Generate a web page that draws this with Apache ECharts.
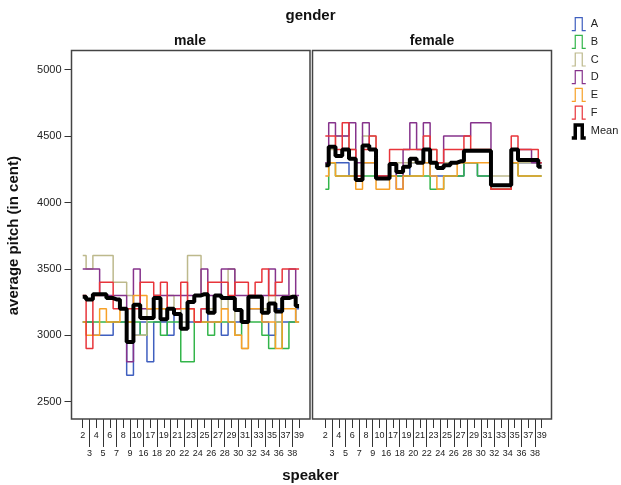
<!DOCTYPE html>
<html>
<head>
<meta charset="utf-8">
<script src="https://cdn.jsdelivr.net/npm/echarts@6/dist/echarts.min.js"></script>
<style>html,body{margin:0;padding:0;background:#fff}#c{width:621px;height:485px}</style>
</head>
<body>
<div id="c"></div>
<script>
const speakers = ['2','3','4','5','6','7','8','9','10','16','17','18','19','20','21','22','23','24','25','26','27','28','29','30','31','32','33','34','35','36','37','38','39'];
const yTicks = [2500, 3000, 3500, 4000, 4500, 5000];
const seriesNames = ['A','B','C','D','E','F','Mean'];

const maleA = [3100,3100,3000,3000,3000,3100,3100,2700,3000,3100,2800,3100,3100,3000,3200,3100,3100,3100,3200,3100,3100,3000,3100,3100,3100,3200,3200,3100,3000,3200,3100,3100,3200];
const maleB = [3100,3100,3100,3100,3100,3100,3100,3100,3100,3000,3100,3100,3000,3100,3100,2800,2800,3100,3100,3000,3100,3100,3100,3000,3100,3100,3100,3000,2900,3100,2900,3100,3100];
const maleC = [3600,3500,3600,3600,3600,3400,3400,3300,3000,3000,3200,3300,3200,3300,3200,3100,3600,3600,3300,3200,3300,3200,3500,3000,2900,3300,3300,3200,3300,3100,3300,3300,3100];
const maleD = [3500,3500,3500,3300,3300,3300,3300,2800,3500,3200,3200,3300,3300,3300,3300,3300,3300,3300,3500,3300,3300,3500,3500,3300,3300,3300,3300,3300,3500,3300,3300,3500,3300];
const maleE = [3100,3000,3000,3200,3100,3100,3200,3100,3300,3300,3200,3200,3200,3200,3200,3200,3200,3100,3100,3100,3100,3200,3100,3000,2900,3200,3200,3100,3100,2900,3200,3200,3100];
const maleF = [3300,2900,3300,3400,3400,3200,3200,3200,3200,3400,3400,3300,3400,3200,3200,3400,3200,3100,3200,3400,3400,3400,3300,3400,3400,3300,3400,3500,3300,3400,3500,3500,3500];
const maleMean = [3290,3270,3310,3310,3280,3270,3200,2950,3230,3130,3130,3280,3120,3200,3160,3050,3250,3300,3310,3170,3300,3280,3280,3190,3100,3290,3290,3170,3240,3180,3280,3290,3220];

const femaleA = [4300,4300,4300,4300,4200,4200,4300,4300,4200,4200,4300,4200,4200,4300,4300,4300,4200,4200,4200,4200,4200,4300,4300,4200,4200,4100,4100,4100,4300,4300,4300,4300,4300];
const femaleB = [4100,4300,4200,4200,4200,4200,4200,4200,4200,4200,4200,4200,4200,4200,4200,4200,4100,4100,4200,4200,4200,4300,4300,4200,4200,4100,4100,4100,4300,4200,4200,4200,4200];
const femaleC = [4300,4400,4500,4500,4400,4200,4500,4500,4200,4200,4300,4300,4300,4300,4300,4400,4400,4300,4300,4300,4300,4400,4400,4400,4400,4200,4200,4200,4400,4300,4300,4300,4300];
const femaleD = [4300,4600,4500,4500,4600,4300,4600,4400,4200,4200,4300,4100,4400,4600,4400,4600,4300,4300,4500,4500,4500,4500,4600,4600,4600,4100,4100,4100,4400,4400,4400,4300,4300];
const femaleE = [4200,4300,4200,4200,4200,4100,4300,4300,4100,4100,4200,4100,4200,4200,4200,4300,4200,4100,4200,4200,4300,4300,4300,4300,4300,4100,4100,4100,4300,4200,4200,4200,4200];
const femaleF = [4500,4500,4400,4600,4400,4200,4400,4500,4200,4200,4400,4400,4400,4400,4400,4500,4400,4300,4400,4400,4400,4500,4400,4400,4400,4100,4100,4100,4500,4400,4400,4400,4300];
const femaleMean = [4280,4420,4350,4400,4330,4170,4430,4400,4180,4180,4290,4230,4270,4330,4300,4400,4300,4260,4280,4300,4310,4390,4390,4390,4390,4130,4130,4130,4400,4320,4320,4320,4270];

const colors = ['#3f5fbf','#33b54a','#bdb98c','#86338c','#f7a128','#e8353b','#000000'];
const FONT = 'Liberation Sans, Arial, sans-serif';

const maleData = [maleA, maleB, maleC, maleD, maleE, maleF, maleMean];
const femaleData = [femaleA, femaleB, femaleC, femaleD, femaleE, femaleF, femaleMean];

function xAxisPair(gridIndex) {
  const base = {
    type: 'category', gridIndex: gridIndex, data: speakers, position: 'bottom',
    offset: 17.3, boundaryGap: true,
    axisLine: { show: false }, splitLine: { show: false }
  };
  return [
    Object.assign({}, base, {
      axisTick: { show: true, alignWithLabel: true, length: 9, interval: function (i) { return i % 2 === 0; }, lineStyle: { color: '#333', width: 1 } },
      axisLabel: { show: true, interval: function (i) { return i % 2 === 0; }, fontSize: 9, color: '#222', margin: 12, fontFamily: FONT }
    }),
    Object.assign({}, base, {
      axisTick: { show: true, alignWithLabel: true, length: 28, interval: function (i) { return i % 2 === 1; }, lineStyle: { color: '#333', width: 1 } },
      axisLabel: { show: true, interval: function (i) { return i % 2 === 1; }, fontSize: 9, color: '#222', margin: 30, fontFamily: FONT }
    })
  ];
}

const series = [];
seriesNames.forEach(function (name, k) {
  const isMean = name === 'Mean';
  [maleData, femaleData].forEach(function (arr, p) {
    series.push({
      name: name, type: 'line', step: 'middle', symbol: 'none',
      xAxisIndex: p * 2, yAxisIndex: p,
      data: arr[k],
      color: colors[k],
      lineStyle: { color: colors[k], width: isMean ? 4 : 1.5 },
      z: isMean ? 10 : 2 + k,
      emphasis: { disabled: true }
    });
  });
});

const legendIcon = 'path://M0,14 L3.5,14 L3.5,1 L10.5,1 L10.5,14 L14,14';

const option = {
  animation: false,
  color: colors,
  grid: [
    { left: 79.35, top: 69.7, width: 223.1, height: 332 },
    { left: 321.95, top: 69.7, width: 223.1, height: 332 }
  ],
  xAxis: xAxisPair(0).concat(xAxisPair(1)),
  yAxis: [
    {
      type: 'value', gridIndex: 0, min: yTicks[0], max: yTicks[yTicks.length - 1], interval: 500, position: 'left', offset: 7.85,
      axisLine: { show: false }, splitLine: { show: false },
      axisTick: { show: true, length: 7, lineStyle: { color: '#333', width: 1 } },
      axisLabel: { fontSize: 11, color: '#222', margin: 10, fontFamily: FONT, formatter: function (v) { return String(v); } },
      name: 'average pitch (in cent)', nameLocation: 'middle', nameGap: 50, nameRotate: 90,
      nameTextStyle: { fontSize: 15, fontWeight: 'bold', color: '#111', fontFamily: FONT }
    },
    {
      type: 'value', gridIndex: 1, min: yTicks[0], max: yTicks[yTicks.length - 1], interval: 500,
      axisLine: { show: false }, splitLine: { show: false },
      axisTick: { show: false }, axisLabel: { show: false }
    }
  ],
  legend: {
    orient: 'vertical', left: 565, top: 12, itemWidth: 14, itemHeight: 14, itemGap: 3.5,
    icon: legendIcon,
    textStyle: { fontSize: 11, color: '#222', fontFamily: FONT },
    selectedMode: false,
    data: seriesNames.map(function (n, k) {
      return { name: n, icon: legendIcon, itemStyle: { color: 'rgba(0,0,0,0)', borderColor: colors[k], borderWidth: n === 'Mean' ? 3.5 : 1.2 } };
    })
  },
  graphic: [
    { type: 'rect', shape: { x: 71.5, y: 50.5, width: 238.5, height: 368.5 }, style: { fill: 'none', stroke: '#444', lineWidth: 1.5 }, z: 100, silent: true },
    { type: 'rect', shape: { x: 312.5, y: 50.5, width: 239, height: 368.5 }, style: { fill: 'none', stroke: '#444', lineWidth: 1.5 }, z: 100, silent: true },
    { type: 'text', x: 310.5, y: 16, style: { text: 'gender', align: 'center', verticalAlign: 'middle', font: 'bold 15px ' + FONT, fill: '#111' }, z: 100 },
    { type: 'text', x: 190, y: 41, style: { text: 'male', align: 'center', verticalAlign: 'middle', font: 'bold 14px ' + FONT, fill: '#111' }, z: 100 },
    { type: 'text', x: 432, y: 41, style: { text: 'female', align: 'center', verticalAlign: 'middle', font: 'bold 14px ' + FONT, fill: '#111' }, z: 100 },
    { type: 'text', x: 310.5, y: 476, style: { text: 'speaker', align: 'center', verticalAlign: 'middle', font: 'bold 15px ' + FONT, fill: '#111' }, z: 100 }
  ],
  series: series
};

const chart = echarts.init(document.getElementById('c'), null, { renderer: 'canvas' });
chart.setOption(option);
</script>
</body>
</html>
